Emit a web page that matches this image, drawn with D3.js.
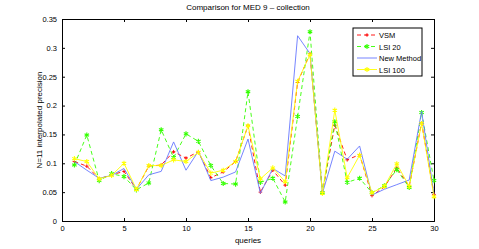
<!DOCTYPE html>
<html>
<head>
<meta charset="utf-8">
<script src="https://cdn.jsdelivr.net/npm/d3@7"></script>
<style>
  body { margin: 0; background: #fff; }
  svg { font-family: "Liberation Sans Narrow", "Liberation Sans", Arial, sans-serif; }
  .axis path, .axis line { stroke: #000; }
  .axis text { font-size: 7.5px; fill: #000; }
</style>
</head>
<body>
<div id="chart"></div>
<script>
// queries 1..30
const queries = d3.range(1, 31);

const vsm = [0.103, 0.095, 0.073, 0.080, 0.086, 0.055, 0.095, 0.097, 0.120, 0.109,
             0.120, 0.075, 0.085, 0.103, 0.165, 0.050, 0.088, 0.062, 0.240, 0.290,
             0.050, 0.166, 0.106, 0.115, 0.044, 0.059, 0.092, 0.060, 0.170, 0.046];
const lsi20 = [0.097, 0.149, 0.070, 0.082, 0.077, 0.054, 0.066, 0.158, 0.110, 0.151,
               0.138, 0.096, 0.065, 0.064, 0.224, 0.067, 0.074, 0.033, 0.181, 0.328,
               0.049, 0.172, 0.067, 0.074, 0.049, 0.061, 0.089, 0.058, 0.188, 0.070];
const newMethod = [0.103, 0.088, 0.074, 0.079, 0.091, 0.055, 0.080, 0.086, 0.137, 0.088,
                   0.121, 0.070, 0.076, 0.085, 0.142, 0.048, 0.091, 0.078, 0.321, 0.290,
                   0.048, 0.121, 0.107, 0.130, 0.045, 0.055, 0.063, 0.071, 0.190, 0.046];
const lsi100 = [0.108, 0.103, 0.073, 0.079, 0.100, 0.055, 0.096, 0.096, 0.106, 0.103,
                0.119, 0.083, 0.088, 0.103, 0.165, 0.073, 0.092, 0.068, 0.242, 0.288,
                0.048, 0.192, 0.075, 0.114, 0.049, 0.060, 0.099, 0.060, 0.169, 0.042];

const xTicks = [0, 5, 10, 15, 20, 25, 30];
const yTicks = [0, 0.05, 0.1, 0.15, 0.2, 0.25, 0.3, 0.35];

const series = [
  { name: "VSM", values: vsm, color: "#ff0000", dash: "4,3", marker: "plus" },
  { name: "LSI 20", values: lsi20, color: "#33ff00", dash: "4,3", marker: "star" },
  { name: "New Method", values: newMethod, color: "#6677ff", dash: null, marker: null },
  { name: "LSI 100", values: lsi100, color: "#ffff00", dash: null, marker: "star" }
];

const width = 479, height = 249;
const margin = { left: 62, right: 45, top: 19, bottom: 28 };

const svg = d3.select("#chart").append("svg")
  .attr("width", width)
  .attr("height", height);

const x = d3.scaleLinear().domain([0, 30]).range([margin.left, width - margin.right]);
const y = d3.scaleLinear().domain([0, 0.35]).range([height - margin.bottom, margin.top]);

// Axes (MATLAB style, ticks inside, box around)
svg.append("g")
  .attr("class", "axis")
  .attr("transform", `translate(0,${y(0)})`)
  .call(d3.axisBottom(x).tickValues(xTicks).tickSize(-3).tickPadding(5).tickFormat(d3.format("d")));

svg.append("g")
  .attr("class", "axis")
  .attr("transform", `translate(0,${y(0.35)})`)
  .call(d3.axisTop(x).tickValues(xTicks).tickSize(-3).tickFormat(""));

svg.append("g")
  .attr("class", "axis")
  .attr("transform", `translate(${x(0)},0)`)
  .call(d3.axisLeft(y).tickValues(yTicks).tickSize(-3).tickPadding(5).tickFormat(d => d === 0 ? "0" : d3.format("")(+d.toFixed(2))));

svg.append("g")
  .attr("class", "axis")
  .attr("transform", `translate(${x(30)},0)`)
  .call(d3.axisRight(y).tickValues(yTicks).tickSize(-3).tickFormat(""));

// Lines
const line = d3.line()
  .x((d, i) => x(queries[i]))
  .y(d => y(d));

const starPath = d3.symbol().type(d3.symbolAsterisk).size(18)();
const plusPath = "M-1.8,0H1.8M0,-1.8V1.8";

function addMarker(sel, s) {
  if (s.marker === "star") {
    sel.attr("d", starPath)
      .attr("fill", s.color)
      .attr("stroke", s.color)
      .attr("stroke-width", 1.1);
  } else {
    sel.attr("d", plusPath)
      .attr("fill", "none")
      .attr("stroke", s.color)
      .attr("stroke-width", 0.9);
  }
}

series.forEach(s => {
  svg.append("path")
    .datum(s.values)
    .attr("fill", "none")
    .attr("stroke", s.color)
    .attr("stroke-width", 0.9)
    .attr("stroke-dasharray", s.dash)
    .attr("d", line);

  if (s.marker) {
    svg.selectAll(null)
      .data(s.values)
      .enter()
      .append("path")
      .attr("transform", (d, i) => `translate(${x(queries[i])},${y(d)})`)
      .call(addMarker, s);
  }
});

// Title and labels
svg.append("text")
  .attr("x", (x(0) + x(30)) / 2)
  .attr("y", 10)
  .attr("text-anchor", "middle")
  .style("font-size", "8px")
  .text("Comparison for MED 9 \u2013 collection");

svg.append("text")
  .attr("x", (x(0) + x(30)) / 2)
  .attr("y", 243)
  .attr("text-anchor", "middle")
  .style("font-size", "8px")
  .text("queries");

svg.append("text")
  .attr("transform", "rotate(-90)")
  .attr("x", -(y(0) + y(0.35)) / 2)
  .attr("y", 42)
  .attr("text-anchor", "middle")
  .style("font-size", "8px")
  .text("N=11 interpolated precision");

// Legend
const legend = svg.append("g").attr("transform", "translate(353,28)");
legend.append("rect")
  .attr("width", 69)
  .attr("height", 48)
  .attr("fill", "#fff")
  .attr("stroke", "#000")
  .attr("stroke-width", 1);

series.forEach((s, i) => {
  const g = legend.append("g").attr("transform", `translate(0,${7 + i * 11.5})`);
  g.append("line")
    .attr("x1", 4).attr("x2", 24)
    .attr("stroke", s.color)
    .attr("stroke-width", 0.9)
    .attr("stroke-dasharray", s.dash);
  if (s.marker) {
    g.append("path")
      .attr("transform", "translate(14,0)")
      .call(addMarker, s);
  }
  g.append("text")
    .attr("x", 26)
    .attr("y", 3)
    .style("font-size", "7.5px")
    .text(s.name);
});
</script>
</body>
</html>
